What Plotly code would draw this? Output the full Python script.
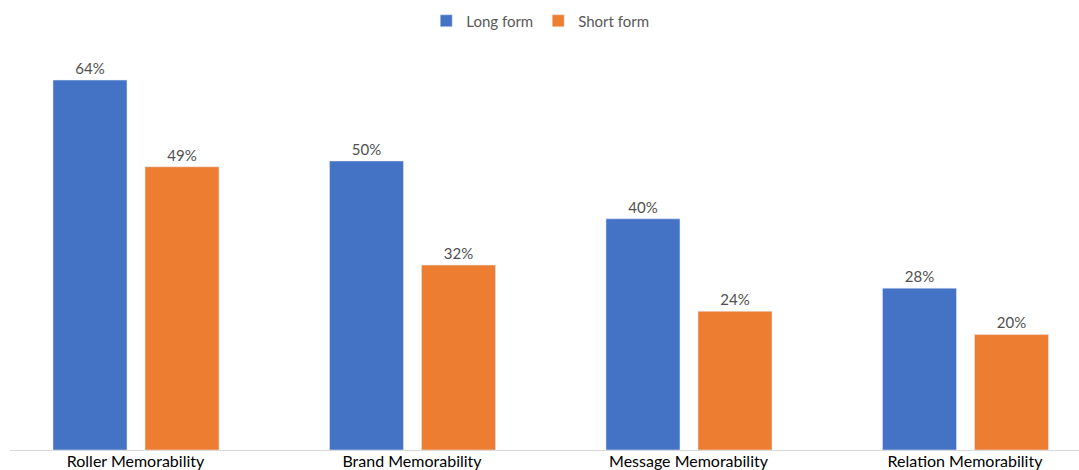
import plotly.graph_objects as go

categories = ["Roller Memorability", "Brand Memorability", "Message Memorability", "Relation Memorability"]
long_form = [64, 50, 40, 28]
short_form = [49, 32, 24, 20]
series_names = ["Long form", "Short form"]

BLUE = "#4472C4"
ORANGE = "#ED7D31"
FONT = "Lato"

xpos = list(range(len(categories)))
bw = 0.2676

fig = go.Figure()
fig.add_trace(go.Bar(
    x=xpos, y=long_form, name=series_names[0], marker_color=BLUE,
    width=bw, offset=-0.2984,
    text=[f"{v}%" for v in long_form], textposition="outside",
    textfont=dict(family=FONT, size=15, color="#505050"), cliponaxis=False,
))
fig.add_trace(go.Bar(
    x=xpos, y=short_form, name=series_names[1], marker_color=ORANGE,
    width=bw, offset=0.0344,
    text=[f"{v}%" for v in short_form], textposition="outside",
    textfont=dict(family=FONT, size=15, color="#505050"), cliponaxis=False,
))

W, H = 1079, 470
ml, mr, mt, mb = 10, 0, 40, 20
plot_h = H - mt - mb
px_per_unit = 5.78
ymax = plot_h / px_per_unit

fig.update_layout(
    width=W, height=H,
    margin=dict(l=ml, r=mr, t=mt, b=mb),
    paper_bgcolor="white", plot_bgcolor="white",
    barmode="overlay",
    showlegend=True,
    legend=dict(orientation="h", x=0.496, xanchor="center", y=(plot_h + mt - 21) / plot_h, yanchor="middle",
                font=dict(family=FONT, size=15, color="#595959"), itemwidth=30,
                traceorder="normal"),
    xaxis=dict(
        tickmode="array", tickvals=xpos, ticktext=categories,
        range=[(ml - 135.5) / 276.5, (W - 135.5) / 276.5],
        showgrid=False, zeroline=False, showline=False, ticks="",
        automargin=False,
        tickfont=dict(family=FONT, size=16, color="#000000"),
    ),
    yaxis=dict(range=[0, ymax], showticklabels=False, showgrid=False, zeroline=True,
               zerolinecolor="#D9D9D9", zerolinewidth=1, showline=False, ticks="",
               automargin=False),
    font=dict(family=FONT),
)

fig.write_html("out.html")
